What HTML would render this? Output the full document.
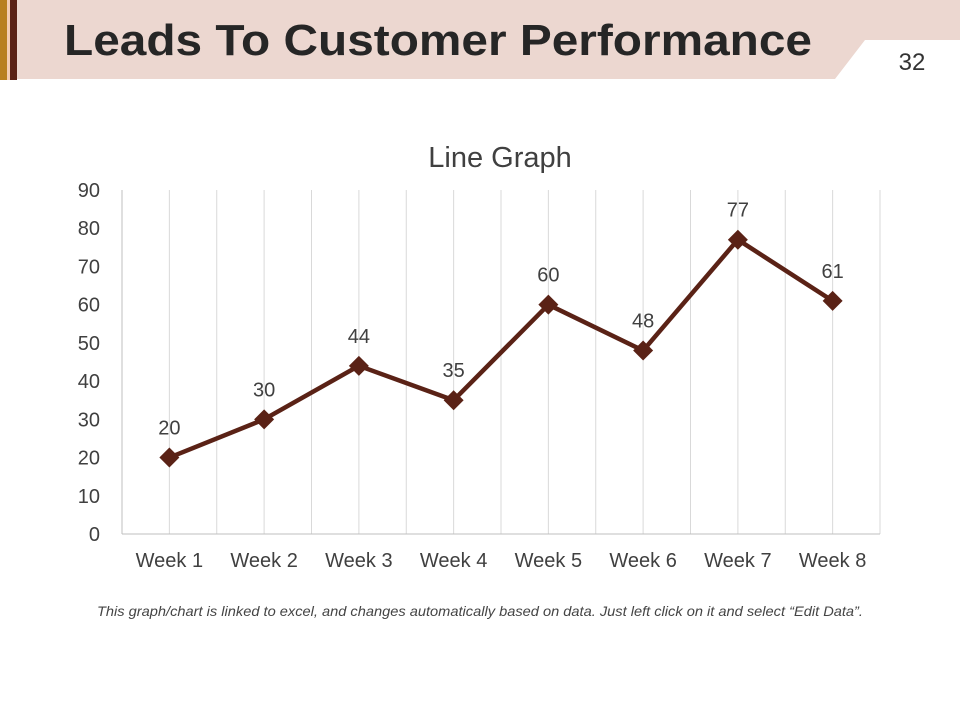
<!DOCTYPE html>
<html><head><meta charset="utf-8"><style>
body{margin:0;width:960px;height:720px;background:#fff;position:relative;overflow:hidden;font-family:"Liberation Sans",sans-serif}
</style></head><body>
<svg width="960" height="720" style="position:absolute;left:0;top:0">
<rect x="0" y="0" width="7" height="80" fill="#b8801e"/>
<rect x="7" y="0" width="3" height="80" fill="#f3cdb0"/>
<rect x="10" y="0" width="7" height="80" fill="#5a2216"/>
<polygon points="17,0 960,0 960,40 865,40 835,79 17,79" fill="#ecd7d0"/>
<text x="64" y="55" font-size="44" font-weight="bold" fill="#262626" textLength="748" lengthAdjust="spacingAndGlyphs">Leads To Customer Performance</text>
<text x="912" y="70" font-size="24" fill="#333" text-anchor="middle">32</text>
<text x="500" y="167" font-size="29" fill="#404040" text-anchor="middle">Line Graph</text>
<g id="grid"></g><g id="chart"></g>
<text x="97" y="616" font-size="14" font-style="italic" fill="#444" textLength="766" lengthAdjust="spacingAndGlyphs">This graph/chart is linked to excel, and changes automatically based on data. Just left click on it and select “Edit Data”.</text>
</svg>
<script>
const categories=["Week 1","Week 2","Week 3","Week 4","Week 5","Week 6","Week 7","Week 8"];
const values=[20,30,44,35,60,48,77,61];
const yTicks=[0,10,20,30,40,50,60,70,80,90];
const NS="http://www.w3.org/2000/svg";
const x0=122,x1=880,y0=534,y1=190,yMax=90;
const bw=(x1-x0)/categories.length;
const xs=i=>x0+bw*(i+0.5);
const ys=v=>y0-(v/yMax)*(y0-y1);
const g=document.getElementById('chart'),gr=document.getElementById('grid');
function mk(tag,attrs,parent){const e=document.createElementNS(NS,tag);for(const k in attrs)e.setAttribute(k,attrs[k]);parent.appendChild(e);return e;}
for(let i=0;i<=categories.length*2;i++){
  const x=x0+bw/2*i;
  const l=mk('line',{x1:x,x2:x,y1:y1,y2:y0,stroke:i==0?'#bfbfbf':'#d9d9d9','stroke-width':1},gr);
  
  
}
const ax=mk('line',{x1:x0,x2:x1,y1:y0,y2:y0,stroke:'#bfbfbf','stroke-width':1},gr);


yTicks.forEach(t=>{
  const e=mk('text',{x:100,y:ys(t)+7,'font-size':20,fill:'#404040','text-anchor':'end'},g);
  e.textContent=t;
  
  
});
categories.forEach((c,i)=>{
  const e=mk('text',{x:xs(i),y:567,'font-size':20,fill:'#404040','text-anchor':'middle'},g);
  e.textContent=c;
  
  
});
const line=mk('polyline',{points:values.map((v,i)=>xs(i)+','+ys(v)).join(' '),fill:'none',stroke:'#5a2216','stroke-width':4.5,'stroke-linejoin':'round'},g);


values.forEach((v,i)=>{
  const x=xs(i),y=ys(v),s=10;
  const m=mk('polygon',{points:`${x},${y-s} ${x+s},${y} ${x},${y+s} ${x-s},${y}`,fill:'#5a2216'},g);
  
  
  const t=mk('text',{x:x,y:y-23,'font-size':20,fill:'#404040','text-anchor':'middle'},g);
  t.textContent=v;
  
  
});
</script>
</body></html>
